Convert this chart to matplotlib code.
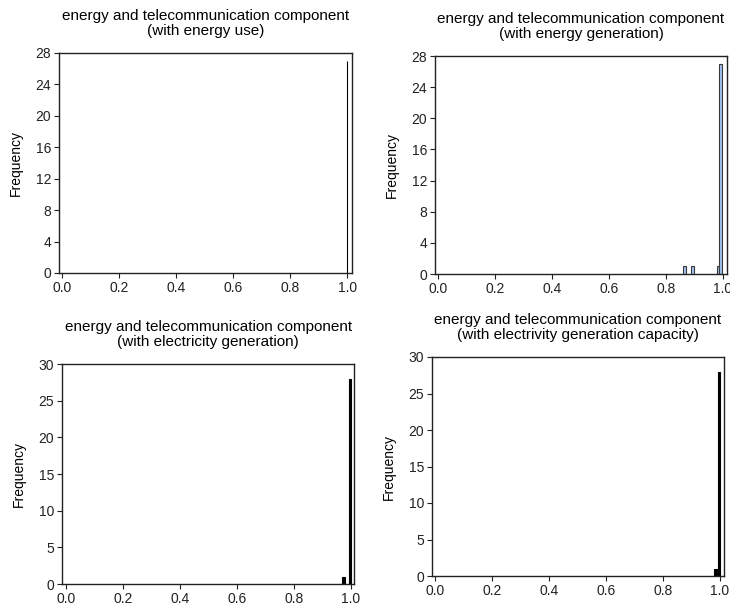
import matplotlib
matplotlib.use("Agg")
import matplotlib.pyplot as plt

plt.rcParams['font.family'] = ['Liberation Sans', 'DejaVu Sans']

titles = [
    "energy and telecommunication component\n(with energy use)",
    "energy and telecommunication component\n(with energy generation)",
    "energy and telecommunication component\n(with electricity generation)",
    "energy and telecommunication component\n(with electrivity generation capacity)",
]

# histogram bins: left edges, widths and counts
p1_left = [0.999]
p1_width = [0.002]
p1_count = [27]

p2_left = [0.860, 0.890, 0.979, 0.9885]
p2_width = [0.0095, 0.0095, 0.0095, 0.0095]
p2_count = [1, 1, 1, 27]

p3_left = [0.971, 0.995]
p3_width = [0.008, 0.007]
p3_count = [1, 28]

p4_left = [0.981, 0.995]
p4_width = [0.009, 0.005]
p4_count = [1, 28]

x_ticks = [0.0, 0.2, 0.4, 0.6, 0.8, 1.0]
y_ticks_top = [0, 4, 8, 12, 16, 20, 24, 28]
y_ticks_bottom = [0, 5, 10, 15, 20, 25, 30]

W, H = 730, 605
fig = plt.figure(figsize=(W / 100, H / 100), dpi=100)

def rect(l, r, t, b):
    return [l / W, 1 - b / H, (r - l) / W, (b - t) / H]

panels = [
    dict(pos=rect(59, 351.5, 53, 273), left=p1_left, width=p1_width, count=p1_count,
         fc='black', ec='black', xlim=(-0.0105, 1.0155), ylim=(0, 28), yt=y_ticks_top),
    dict(pos=rect(435, 727, 56, 274), left=p2_left, width=p2_width, count=p2_count,
         fc='#9fc3f0', ec='#3a3a3a', xlim=(-0.0095, 1.015), ylim=(0, 28), yt=y_ticks_top),
    dict(pos=rect(62, 354.3, 364, 584), left=p3_left, width=p3_width, count=p3_count,
         fc='black', ec='black', xlim=(-0.013, 1.0126), ylim=(0, 30), yt=y_ticks_bottom),
    dict(pos=rect(432, 724, 357, 576), left=p4_left, width=p4_width, count=p4_count,
         fc='black', ec='black', xlim=(-0.0105, 1.015), ylim=(0, 30), yt=y_ticks_bottom),
]

for i, p in enumerate(panels):
    ax = fig.add_axes(p['pos'])
    ax.bar(p['left'], p['count'], width=p['width'], align='edge',
           color=p['fc'], edgecolor=p['ec'], linewidth=0.8)
    ax.set_xlim(*p['xlim'])
    ax.set_ylim(*p['ylim'])
    ax.set_xticks(x_ticks)
    ax.set_xticklabels([f"{v:.1f}" for v in x_ticks])
    ax.set_yticks(p['yt'])
    ax.tick_params(direction='out', length=3.5, width=0.8, labelsize=10, pad=2,
                   top=False, right=False, colors='#222222')
    for s in ax.spines.values():
        s.set_linewidth(1.0)
        s.set_color('#222222')
    ax.set_ylabel("Frequency", fontsize=10, labelpad=9)
    ax.set_title(titles[i], fontsize=11, pad=13, linespacing=1.05)

fig.savefig("out.png", dpi=100)
